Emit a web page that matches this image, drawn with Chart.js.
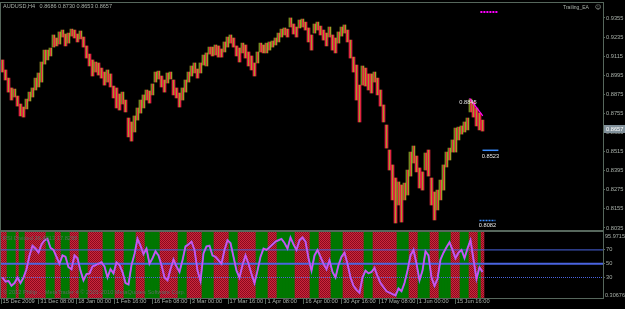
<!DOCTYPE html>
<html><head><meta charset="utf-8">
<script src="https://cdn.jsdelivr.net/npm/chart.js@4.4.1/dist/chart.umd.min.js"></script>
<style>
html,body{margin:0;padding:0;background:#000;}
#wrap{position:relative;width:625px;height:309px;background:#000;overflow:hidden}
#c1{position:absolute;left:0;top:0}
#c2{position:absolute;left:0;top:231px}
</style></head><body>
<div id="wrap"><canvas id="c1" width="625" height="231"></canvas><canvas id="c2" width="625" height="78"></canvas></div>
<script>
// ---------- DATA ----------
const symbolTitle = 'AUDUSD,H4   0.8686 0.8730 0.8653 0.8657';
const eaName = 'Trailing_EA';
const indicatorTitle = 'RSI Divided 36.4813 17.8295';
const footerText = '\u00A9 2012 Philip ... MetaTrader 4 \u00A9 2001-2010 MetaQuotes Software Corp.';

const highs = [0.9091,0.9028,0.8977,0.8915,0.8908,0.8864,0.8814,0.8795,0.8845,0.8889,
0.8915,0.8977,0.9009,0.9078,0.9153,0.9153,0.9166,0.9248,0.9229,0.9267,
0.9279,0.9254,0.9260,0.9285,0.9279,0.9254,0.9273,0.9235,0.9179,0.9128,
0.9091,0.9078,0.9072,0.9040,0.9015,0.9028,0.9003,0.8927,0.8915,0.8877,
0.8889,0.8839,0.8726,0.8701,0.8739,0.8789,0.8839,0.8871,0.8902,0.8896,
0.8940,0.9015,0.9021,0.8990,0.8965,0.9009,0.9015,0.8965,0.8915,0.8883,
0.8915,0.8965,0.9015,0.9053,0.9072,0.9034,0.9072,0.9122,0.9135,0.9172,
0.9172,0.9185,0.9179,0.9160,0.9204,0.9235,0.9248,0.9229,0.9179,0.9166,
0.9197,0.9185,0.9141,0.9116,0.9072,0.9141,0.9197,0.9185,0.9197,0.9204,
0.9210,0.9229,0.9260,0.9285,0.9292,0.9285,0.9355,0.9317,0.9298,0.9342,
0.9348,0.9329,0.9292,0.9248,0.9317,0.9329,0.9304,0.9279,0.9260,0.9298,
0.9248,0.9229,0.9267,0.9298,0.9311,0.9279,0.9216,0.9109,0.9059,0.8933,
0.9053,0.9040,0.9003,0.9003,0.9015,0.8977,0.8902,0.8808,0.8682,0.8525,
0.8431,0.8349,0.8324,0.8305,0.8317,0.8399,0.8512,0.8550,0.8487,0.8412,
0.8387,0.8506,0.8525,0.8349,0.8261,0.8273,0.8336,0.8431,0.8512,0.8537,
0.8588,0.8663,0.8669,0.8676,0.8701,0.8726,0.8845,0.8827,0.8789,0.8757,
0.8713];
const lows = [0.9015,0.8965,0.8889,0.8839,0.8858,0.8801,0.8739,0.8732,0.8783,0.8833,
0.8858,0.8902,0.8921,0.8952,0.9065,0.9091,0.9116,0.9172,0.9179,0.9191,
0.9235,0.9179,0.9197,0.9241,0.9229,0.9204,0.9223,0.9172,0.9103,0.9053,
0.8990,0.9015,0.8996,0.8977,0.8933,0.8952,0.8921,0.8852,0.8789,0.8776,
0.8814,0.8764,0.8607,0.8581,0.8638,0.8713,0.8757,0.8789,0.8839,0.8820,
0.8871,0.8952,0.8971,0.8921,0.8889,0.8946,0.8971,0.8871,0.8852,0.8795,
0.8839,0.8889,0.8952,0.8990,0.9009,0.8977,0.9009,0.9059,0.9053,0.9128,
0.9116,0.9122,0.9109,0.9109,0.9141,0.9172,0.9197,0.9172,0.9116,0.9078,
0.9135,0.9103,0.9053,0.9028,0.8990,0.9072,0.9141,0.9135,0.9135,0.9153,
0.9172,0.9185,0.9204,0.9235,0.9248,0.9235,0.9298,0.9254,0.9235,0.9292,
0.9298,0.9279,0.9204,0.9153,0.9260,0.9279,0.9248,0.9216,0.9179,0.9235,
0.9153,0.9135,0.9197,0.9241,0.9260,0.9204,0.9103,0.9015,0.8839,0.8701,
0.8933,0.8927,0.8902,0.8883,0.8952,0.8871,0.8801,0.8701,0.8537,0.8399,
0.8211,0.8066,0.8179,0.8072,0.8211,0.8242,0.8361,0.8443,0.8387,0.8286,
0.8273,0.8399,0.8361,0.8179,0.8085,0.8148,0.8211,0.8273,0.8418,0.8462,
0.8512,0.8512,0.8588,0.8625,0.8638,0.8651,0.8764,0.8732,0.8676,0.8651,
0.8644];
const priceTicks = [0.9355,0.9235,0.9115,0.8995,0.8875,0.8755,0.8635,0.8515,0.8395,0.8275,0.8155,0.8035];
const lastPrice = 0.8657;
const timeLabels = ['15 Dec 2009','31 Dec 08:00','18 Jan 00:00','1 Feb 16:00','16 Feb 08:00','3 Mar 00:00','17 Mar 16:00','1 Apr 08:00','16 Apr 00:00','30 Apr 16:00','17 May 08:00','1 Jun 00:00','15 Jun 16:00'];
const barsPerTimeLabel = 12.617;

// EA objects: [startBar, endBar, price]
const targetLine = [159.3, 165, 0.9392];
const stopLine = [160, 165.3, 0.8523];
const lowLine = [159, 164.3, 0.8082];
const trendLine = [[155.7, 0.8850], [160.1, 0.8739]];
const peakNote = [155.5, 0.8845];

// indicator
const oscMax = 95.9715, oscMin = 0.30676;
const levels = [70, 50, 30];
const oscValues = [30,24,25,18,22,30,22,30,42,62,76,72,66,78,84,86,73,70,60,50,
62,60,45,42,62,58,40,26,35,36,46,48,50,52,46,30,42,36,52,48,
38,22,20,48,64,86,76,64,72,50,58,68,62,48,30,26,42,56,46,38,
55,75,78,82,70,40,25,65,75,76,62,60,55,50,70,84,80,60,40,30,
48,62,50,35,22,40,60,72,70,74,78,82,84,86,80,72,88,78,70,84,
88,82,58,40,62,70,60,50,42,55,38,30,48,60,66,50,30,18,12,8,
30,40,36,38,44,32,22,16,10,8,6,4,14,10,22,40,62,70,50,26,
40,68,62,30,18,28,56,66,74,81,70,58,66,70,58,72,84,56,28,45,
38];
const stripeRuns = [['r',2],['g',3],['r',1],['g',2],['r',7],['g',3],['r',2],['g',3],['r',3],['g',3],
['r',5],['g',4],['r',3],['g',4],['r',3],['g',5],['r',6],['g',3],['r',5],['g',4],['r',5],['g',3],
['r',6],['g',4],['r',3],['g',6],['r',5],['g',3],['r',4],['g',4],['r',7],['g',3],['r',8],['g',4],
['r',3],['g',4],['r',3],['g',4],['r',3],['g',3],['r',3],['g',1],['r',1]];

// ---------- STYLE ----------
const FONT = 'Liberation Sans';
const FS = 5.7;
const frameColor = '#56675c';
const textColor = '#a9b1aa';
const RED = '#de2340', OLIVE = '#a39c2a', GOLIVE = '#6f8c1e';
const xMin = -0.5, xMax = 200 + 1/6;

function colPattern(ctx, cols){
  const c = document.createElement('canvas'); c.width = cols.length; c.height = 1;
  const g = c.getContext('2d');
  cols.forEach((col,i)=>{ g.fillStyle = col; g.fillRect(i,0,1,1); });
  return ctx.createPattern(c,'repeat');
}
function stripePattern(ctx){
  const c = document.createElement('canvas'); c.width = 2; c.height = 2;
  const g = c.getContext('2d');
  g.fillStyle = '#8a0a1e'; g.fillRect(0,0,2,2);
  g.fillStyle = '#cc263c'; g.fillRect(0,0,1,1); g.fillRect(1,1,1,1);
  return ctx.createPattern(c,'repeat');
}

const framePlugin = {
  id:'frame',
  afterDatasetsDraw(chart){
    const {ctx, chartArea:a} = chart;
    ctx.save(); ctx.strokeStyle = frameColor; ctx.lineWidth = 1;
    ctx.strokeRect(a.left-0.5, a.top-0.5, a.right-a.left+1, a.bottom-a.top+1);
    ctx.restore();
  }
};

// ---------- MAIN CHART ----------
const ctx1 = document.getElementById('c1').getContext('2d');
const downPat = colPattern(ctx1, [RED, RED, OLIVE]);
const upPat = colPattern(ctx1, [OLIVE, GOLIVE, RED]);
const candleData = highs.map((h,i)=>({x:i, y:[lows[i], h]}));
const candleColors = highs.map((h,i)=> i===0 ? downPat : ((h+lows[i]) >= (highs[i-1]+lows[i-1]) ? upPat : downPat));

const mainText = {
  id:'mainText',
  afterDraw(chart){
    const {ctx, chartArea:a, scales:{x,y}} = chart;
    ctx.save();
    ctx.font = FS+'px "'+FONT+'"'; ctx.textBaseline = 'middle';
    ctx.fillStyle = textColor; ctx.textAlign = 'left';
    ctx.fillText(symbolTitle, 3, 6.5, 109);
    ctx.fillText(eaName, 563, 7, 26);
    ctx.font = '6px "DejaVu Sans"'; ctx.fillText('\u263A', 595, 7);
    ctx.font = FS+'px "'+FONT+'"';
    ctx.fillStyle = '#e6e6e6'; ctx.textAlign = 'center';
    ctx.fillText(peakNote[1].toFixed(4), x.getPixelForValue(peakNote[0]) - 1, y.getPixelForValue(peakNote[1]) + 3);
    ctx.fillText(stopLine[2].toFixed(4), x.getPixelForValue((stopLine[0]+stopLine[1])/2), y.getPixelForValue(stopLine[2]) + 6);
    ctx.fillText(lowLine[2].toFixed(4), x.getPixelForValue((lowLine[0]+lowLine[1])/2), y.getPixelForValue(lowLine[2]) + 5);
    const py = Math.round(y.getPixelForValue(lastPrice));
    ctx.fillStyle = '#80909a'; ctx.fillRect(a.right+1, py-4, 22, 8);
    ctx.fillStyle = '#ffffff'; ctx.textAlign = 'left';
    ctx.fillText(lastPrice.toFixed(4), a.right+3, py);
    ctx.restore();
  }
};

new Chart(ctx1, {
  type:'bar',
  data:{datasets:[
    {type:'bar', data:candleData, backgroundColor:candleColors, barPercentage:1, categoryPercentage:1, borderWidth:0, borderSkipped:false, order:5},
    {type:'line', data:[{x:targetLine[0],y:targetLine[2]},{x:targetLine[1],y:targetLine[2]}], borderColor:'#ff00ff', borderWidth:2, borderDash:[2,1], pointRadius:0, order:1},
    {type:'line', data:[{x:stopLine[0],y:stopLine[2]},{x:stopLine[1],y:stopLine[2]}], borderColor:'#3a8cff', borderWidth:1.5, pointRadius:0, order:1},
    {type:'line', data:[{x:lowLine[0],y:lowLine[2]},{x:lowLine[1],y:lowLine[2]}], borderColor:'#3a8cff', borderWidth:1.5, borderDash:[2,1], pointRadius:0, order:1},
    {type:'line', data:trendLine.map(p=>({x:p[0],y:p[1]})), borderColor:'#ff00ff', borderWidth:1.2, pointRadius:0, order:1}
  ]},
  options:{
    animation:false, responsive:false, events:[],
    layout:{padding:{top:3,left:1,bottom:1,right:0}},
    plugins:{legend:{display:false}, tooltip:{enabled:false}},
    scales:{
      x:{type:'linear', min:xMin, max:xMax, display:false, offset:false, grid:{offset:false}},
      y:{position:'right', min:0.8022, max:0.9449,
         afterBuildTicks:s=>{s.ticks = priceTicks.map(v=>({value:v}));},
         afterFit:s=>{s.width = 22; s.paddingTop = 0; s.paddingBottom = 0;},
         ticks:{color:textColor, font:{family:FONT, size:FS}, padding:1, callback:v=>Number(v).toFixed(4)},
         grid:{drawOnChartArea:false, tickLength:2, color:frameColor},
         border:{color:frameColor}}
    }
  },
  plugins:[framePlugin, mainText]
});

// ---------- INDICATOR ----------
const stripeStates = stripeRuns.flatMap(r=>Array(r[1]).fill(r[0]));
const ctx2 = document.getElementById('c2').getContext('2d');
const redPat = stripePattern(ctx2);
const stripeData = stripeStates.map((s,i)=>({x:i, y:[oscMin, oscMax]}));
const stripeColors = stripeStates.map(s=> s==='g' ? '#007700' : redPat);
const oscData = oscValues.map((v,i)=>({x:i, y:v}));
const levelStyles = [{w:1,d:[]},{w:2,d:[]},{w:1,d:[1,1]}];
const levelSets = levels.map((lv,i)=>({type:'line', data:[{x:xMin,y:lv},{x:xMax,y:lv}], borderColor:'#4a64e0', borderWidth:levelStyles[i].w, borderDash:levelStyles[i].d, pointRadius:0, order:3}));

const indText = {
  id:'indText',
  afterDraw(chart){
    const {ctx, chartArea:a} = chart;
    ctx.save(); ctx.font = FS+'px "'+FONT+'"'; ctx.textBaseline = 'middle'; ctx.textAlign='left';
    ctx.fillStyle = textColor;
    ctx.fillText(oscMax.toFixed(4), a.right+2, a.top+4, 20);
    ctx.fillText(oscMin.toFixed(5), a.right+2, a.bottom-3, 20);
    ctx.fillStyle = '#5a6a60';
    ctx.fillText(indicatorTitle, 3, a.top+6);
    ctx.fillText(footerText, 3, a.bottom-6);
    ctx.restore();
  }
};

new Chart(ctx2, {
  type:'bar',
  data:{datasets:[
    {type:'bar', data:stripeData, backgroundColor:stripeColors, barPercentage:1, categoryPercentage:1, borderWidth:0, borderSkipped:false, order:5},
    ...levelSets,
    {type:'line', data:oscData, borderColor:'#6a70ff', borderWidth:2, pointRadius:0, tension:0, order:2},
    {type:'line', data:oscData, borderColor:'#e44ae4', borderWidth:1.2, pointRadius:0, tension:0, order:1}
  ]},
  options:{
    animation:false, responsive:false, events:[],
    layout:{padding:{top:1,left:1,bottom:0,right:0}},
    plugins:{legend:{display:false}, tooltip:{enabled:false}},
    scales:{
      x:{type:'linear', min:xMin, max:xMax, offset:false,
         afterBuildTicks:s=>{s.ticks = timeLabels.map((l,i)=>({value:xMin + i*barsPerTimeLabel}));},
         afterFit:s=>{s.height = 11; s.paddingLeft = 0; s.paddingRight = 0;},
         ticks:{color:textColor, font:{family:FONT, size:FS}, padding:-5.5, align:'start', maxRotation:0, autoSkip:false, labelOffset:1.5,
                callback:(v,i)=>timeLabels[i]},
         grid:{drawOnChartArea:false, offset:false, tickLength:6, color:frameColor},
         border:{color:frameColor}},
      y:{position:'right', min:oscMin, max:oscMax,
         afterBuildTicks:s=>{s.ticks = levels.map(v=>({value:v}));},
         afterFit:s=>{s.width = 22; s.paddingTop = 0; s.paddingBottom = 0;},
         ticks:{color:textColor, font:{family:FONT, size:FS}, padding:1},
         grid:{drawOnChartArea:false, tickLength:2, color:frameColor},
         border:{color:frameColor}}
    }
  },
  plugins:[framePlugin, indText]
});
</script>
</body></html>
